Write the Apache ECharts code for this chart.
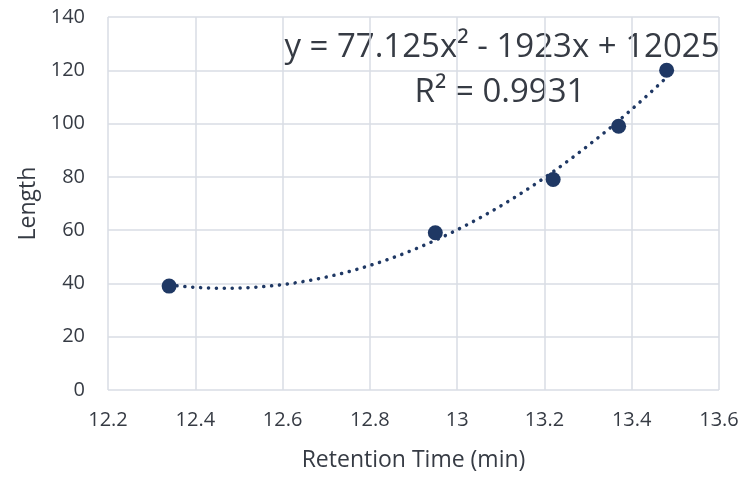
<!DOCTYPE html>
<html>
<head>
<meta charset="utf-8">
<script src="https://cdn.jsdelivr.net/npm/echarts@6/dist/echarts.min.js"></script>
<style>
  html, body { margin: 0; padding: 0; background: #fff; }
  #chart { width: 743px; height: 477px; }
</style>
</head>
<body>
<div id="chart"></div>
<script>
// Measured calibration points
const retentionTimes = [12.34, 12.95, 13.22, 13.37, 13.48];
const lengths = [39, 59, 79, 99, 120];

// Axis ranges and trendline captions
const xTicks = [12.2, 12.4, 12.6, 12.8, 13, 13.2, 13.4, 13.6];
const yTicks = [0, 20, 40, 60, 80, 100, 120, 140];
const equationText = 'y = 77.125x² - 1923x + 12025';
const rSquaredText = 'R² = 0.9931';

// Least-squares quadratic fit of the points (trendline)
function quadFit(xs, ys) {
  const x0 = xs.reduce((a, b) => a + b, 0) / xs.length; // centre for stability
  let S = [0, 0, 0, 0, 0], T = [0, 0, 0];
  xs.forEach((x, i) => {
    const u = x - x0;
    for (let k = 0; k < 5; k++) S[k] += Math.pow(u, k);
    for (let k = 0; k < 3; k++) T[k] += ys[i] * Math.pow(u, k);
  });
  const M = [[S[0], S[1], S[2]], [S[1], S[2], S[3]], [S[2], S[3], S[4]]];
  const det = m => m[0][0]*(m[1][1]*m[2][2]-m[1][2]*m[2][1]) - m[0][1]*(m[1][0]*m[2][2]-m[1][2]*m[2][0]) + m[0][2]*(m[1][0]*m[2][1]-m[1][1]*m[2][0]);
  const D = det(M);
  const coef = [0, 1, 2].map(c => {
    const m = M.map((row, r) => row.map((v, j) => j === c ? T[r] : v));
    return det(m) / D;
  });
  return x => { const u = x - x0; return coef[0] + coef[1]*u + coef[2]*u*u; };
}

const fit = quadFit(retentionTimes, lengths);
const xStart = Math.min(...retentionTimes), xEnd = Math.max(...retentionTimes);
const trend = [];
const steps = 120;
for (let i = 0; i <= steps; i++) {
  const x = xStart + (xEnd - xStart) * i / steps;
  trend.push([x, fit(x)]);
}

const textColor = '#363b44';
const gridColor = '#d9dde5';
const markColor = '#1f3864';
const font = '"Open Sans", "Noto Sans", sans-serif';

const chart = echarts.init(document.getElementById('chart'), null, { renderer: 'canvas' });
chart.setOption({
  animation: false,
  backgroundColor: '#ffffff',
  grid: { left: 108, right: 24, top: 17, bottom: 86 },
  xAxis: {
    type: 'value',
    min: xTicks[0],
    max: xTicks[xTicks.length - 1],
    interval: 0.2,
    name: 'Retention Time (min)',
    nameLocation: 'middle',
    nameGap: 59,
    nameTextStyle: { color: textColor, fontSize: 23, fontFamily: font },
    axisLine: { show: false },
    axisTick: { show: false },
    axisLabel: {
      color: textColor, fontSize: 20, fontFamily: font, margin: 20,
      formatter: v => String(parseFloat(v.toFixed(1)))
    },
    splitLine: { show: true, lineStyle: { color: gridColor, width: 1.5 } }
  },
  yAxis: {
    type: 'value',
    min: yTicks[0],
    max: yTicks[yTicks.length - 1],
    interval: 20,
    name: 'Length',
    nameLocation: 'middle',
    nameGap: 67,
    nameRotate: 90,
    nameTextStyle: { color: textColor, fontSize: 23, fontFamily: font },
    axisLine: { show: false },
    axisTick: { show: false },
    axisLabel: { color: textColor, fontSize: 20, fontFamily: font, margin: 23 },
    splitLine: { show: true, lineStyle: { color: gridColor, width: 1.5 } }
  },
  graphic: [
    {
      type: 'text', x: 502, y: 48,
      style: {
        text: equationText, fill: textColor, font: '33px ' + font,
        textAlign: 'center', textVerticalAlign: 'middle'
      }
    },
    {
      type: 'text', x: 500, y: 93,
      style: {
        text: rSquaredText, fill: textColor, font: '33px ' + font,
        textAlign: 'center', textVerticalAlign: 'middle'
      }
    }
  ],
  series: [
    {
      type: 'line',
      data: trend,
      showSymbol: false,
      smooth: false,
      lineStyle: { color: markColor, width: 3.5, type: [0.1, 7.8], cap: 'round' },
      z: 2
    },
    {
      type: 'scatter',
      data: retentionTimes.map((x, i) => [x, lengths[i]]),
      symbol: 'circle',
      symbolSize: 15,
      itemStyle: { color: markColor, opacity: 1 },
      z: 3
    }
  ]
});
</script>
</body>
</html>
